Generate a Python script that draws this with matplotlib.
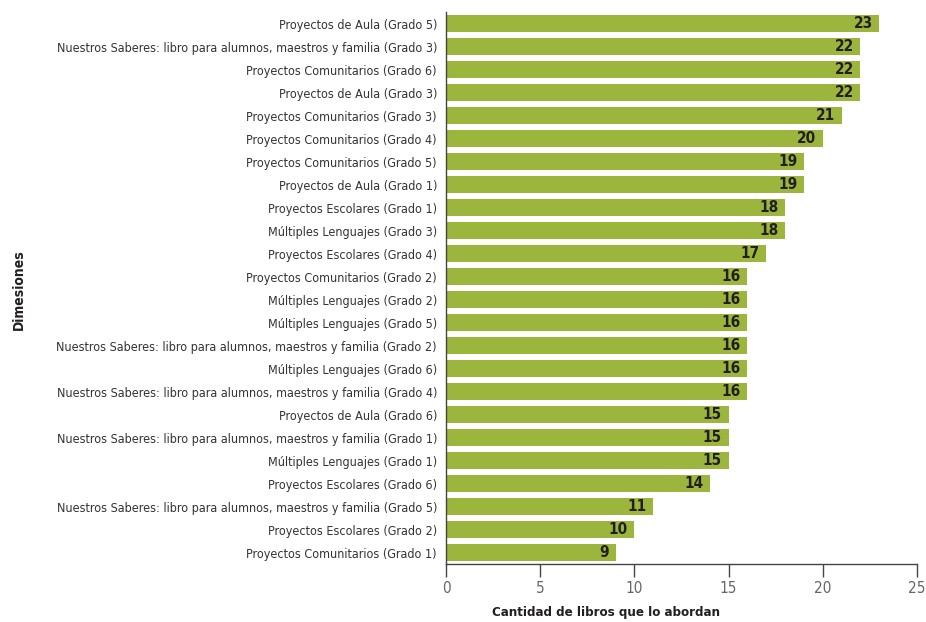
import matplotlib.pyplot as plt
import numpy as np

plt.rcParams['font.family'] = ['DejaVu Sans']
plt.rcParams['font.stretch'] = 'condensed'

dimensiones = [
    "Proyectos de Aula (Grado 5)",
    "Nuestros Saberes: libro para alumnos, maestros y familia (Grado 3)",
    "Proyectos Comunitarios (Grado 6)",
    "Proyectos de Aula (Grado 3)",
    "Proyectos Comunitarios (Grado 3)",
    "Proyectos Comunitarios (Grado 4)",
    "Proyectos Comunitarios (Grado 5)",
    "Proyectos de Aula (Grado 1)",
    "Proyectos Escolares (Grado 1)",
    "Múltiples Lenguajes (Grado 3)",
    "Proyectos Escolares (Grado 4)",
    "Proyectos Comunitarios (Grado 2)",
    "Múltiples Lenguajes (Grado 2)",
    "Múltiples Lenguajes (Grado 5)",
    "Nuestros Saberes: libro para alumnos, maestros y familia (Grado 2)",
    "Múltiples Lenguajes (Grado 6)",
    "Nuestros Saberes: libro para alumnos, maestros y familia (Grado 4)",
    "Proyectos de Aula (Grado 6)",
    "Nuestros Saberes: libro para alumnos, maestros y familia (Grado 1)",
    "Múltiples Lenguajes (Grado 1)",
    "Proyectos Escolares (Grado 6)",
    "Nuestros Saberes: libro para alumnos, maestros y familia (Grado 5)",
    "Proyectos Escolares (Grado 2)",
    "Proyectos Comunitarios (Grado 1)",
]
libros = [23, 22, 22, 22, 21, 20, 19, 19, 18, 18, 17, 16, 16, 16, 16, 16, 16,
          15, 15, 15, 14, 11, 10, 9]

fig = plt.figure(figsize=(9.26, 6.22), dpi=100)
ax = fig.add_axes([0.4816, 0.0932, 0.9903 - 0.4816, 0.9807 - 0.0932])

y = np.arange(len(dimensiones))
ax.barh(y, libros, height=0.7, color='#9bb53d')

# etiqueta de valor dentro del extremo de cada barra
for yi, v in zip(y, libros):
    ax.text(v - 0.35, yi, str(v), ha='right', va='center', fontsize=11,
            fontweight='bold', color='#231f20')

ax.set_ylim(len(dimensiones) - 0.5, -0.5)
ax.set_xlim(0, 25)
ax.set_xticks([0, 5, 10, 15, 20, 25])
ax.set_yticks(y)
ax.set_yticklabels(dimensiones, fontsize=9.0, color='#333333')
ax.tick_params(axis='y', length=0, pad=6.5)
ax.tick_params(axis='x', length=9, width=1, color='#444444', labelsize=11,
               labelcolor='#666666', pad=3)

for s in ['top', 'right']:
    ax.spines[s].set_visible(False)
for s in ['left', 'bottom']:
    ax.spines[s].set_color('#444444')
    ax.spines[s].set_linewidth(1)

fig.text(0.654, 0.016, 'Cantidad de libros que lo abordan', ha='center',
         va='center', fontsize=9.5, fontweight='bold', color='#231f20')
fig.text(0.02, 0.534, 'Dimesiones', rotation=90, ha='center', va='center',
         fontsize=10, fontweight='bold', color='#231f20')

fig.savefig('out.png', dpi=100)
